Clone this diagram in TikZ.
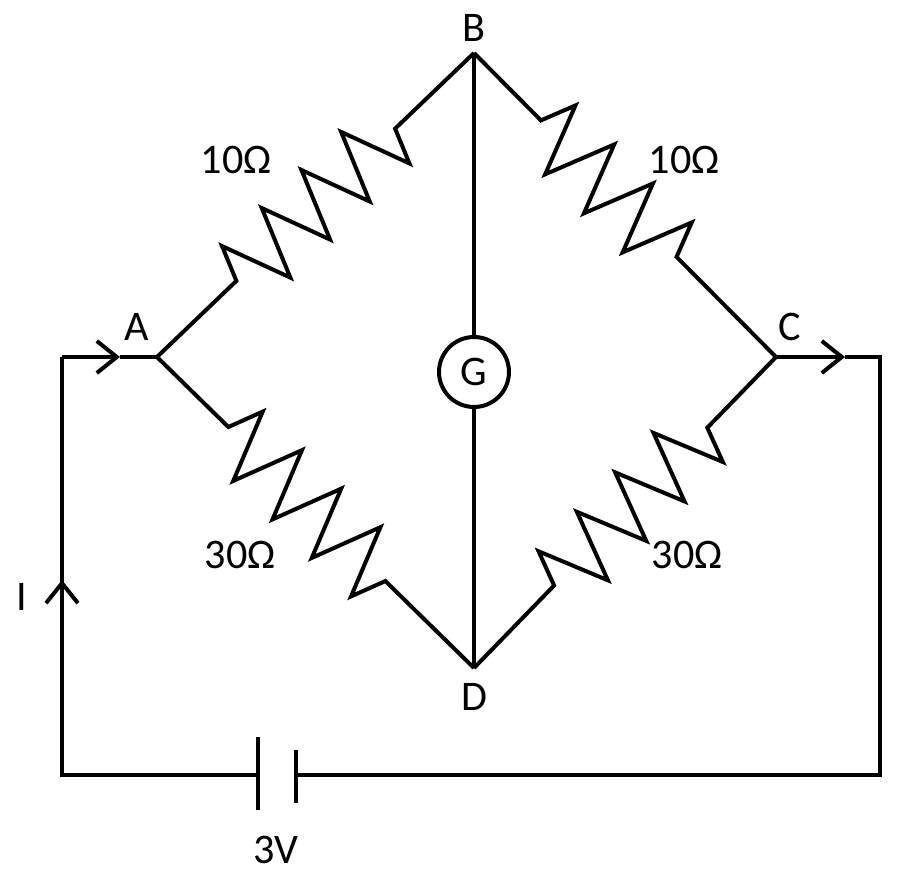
\documentclass[tikz,border=0pt]{standalone}
\usepackage{fontspec}
\setmainfont{Carlito}
\usetikzlibrary{arrows.meta,decorations.pathmorphing,decorations.markings}
\begin{document}
\begin{tikzpicture}[x=0.02cm,y=-0.02cm,
    wire/.style = {line width=0.8mm, line join=miter},
    lbl/.style = {font=\fontsize{24}{28}\selectfont, inner sep=0pt},
    res/.style 2 args = {wire, decorate, decoration={zigzag, amplitude=7mm,
                segment length=11mm, pre length=#1, post length=#2}},
    tip/.style = {-{Straight Barb[length=4mm,width=6.4mm,line width=0.8mm]}}
                    ]
    \useasboundingbox (0,0) rectangle (900,872);
    % junctions
    \coordinate (a) at (157,357);
    \coordinate (b) at (474,53);
    \coordinate (c) at (776,357);
    \coordinate (d) at (474,668);
    \coordinate (tl) at (62,357);
    \coordinate (tr) at (880,357);
    \coordinate (bl) at (62,775);
    \coordinate (br) at (880,775);
    \coordinate (ia) at (120,357);
    \coordinate (ic) at (845,357);
    \coordinate (ii) at (62,580);
    \node[circle, draw, line width=0.8mm, minimum size=14mm, inner sep=0pt,
          font=\fontsize{24}{28}\selectfont] (g) at (474,372) {G};
    % battery
    \coordinate (p1) at (258,775);
    \coordinate (p2) at (296,775);
    \draw[wire] (258,737) -- (258,810);
    \draw[wire] (296,750) -- (296,803);
    % labels
    \node[lbl] (lb) at (474,28) {B};
    \node[lbl] (la) at (137,327) {A};
    \node[lbl] (lc) at (790,327) {C};
    \node[lbl] (ld) at (474,697) {D};
    \node[lbl] (lab) at (236,160) {10Ω};
    \node[lbl] (lbc) at (684,160) {10Ω};
    \node[lbl] (lad) at (240,555) {30Ω};
    \node[lbl] (ldc) at (687,555) {30Ω};
    \node[lbl] (lv) at (276,850) {3V};
    \node[lbl] (li) at (22,597) {I};
    % resistors
    \draw[res={22mm}{19mm}] (a) -- (b);
    \draw[res={19mm}{23mm}] (b) -- (c);
    \draw[res={20mm}{24mm}] (a) -- (d);
    \draw[res={23mm}{19mm}] (d) -- (c);
    % galvanometer arm
    \draw[wire] (b) -- (g);
    \draw[wire] (g) -- (d);
    % outer loop
    \draw[wire,tip] (bl) -- (ii);
    \draw[wire] (ii) -- (tl);
    \draw[wire,tip] (tl) -- (ia);
    \draw[wire] (ia) -- (a);
    \draw[wire,tip] (c) -- (ic);
    \draw[wire] (ic) -- (tr) -- (br) -- (p2);
    \draw[wire] (p1) -- (bl) -- (ii);
\end{tikzpicture}
\end{document}
